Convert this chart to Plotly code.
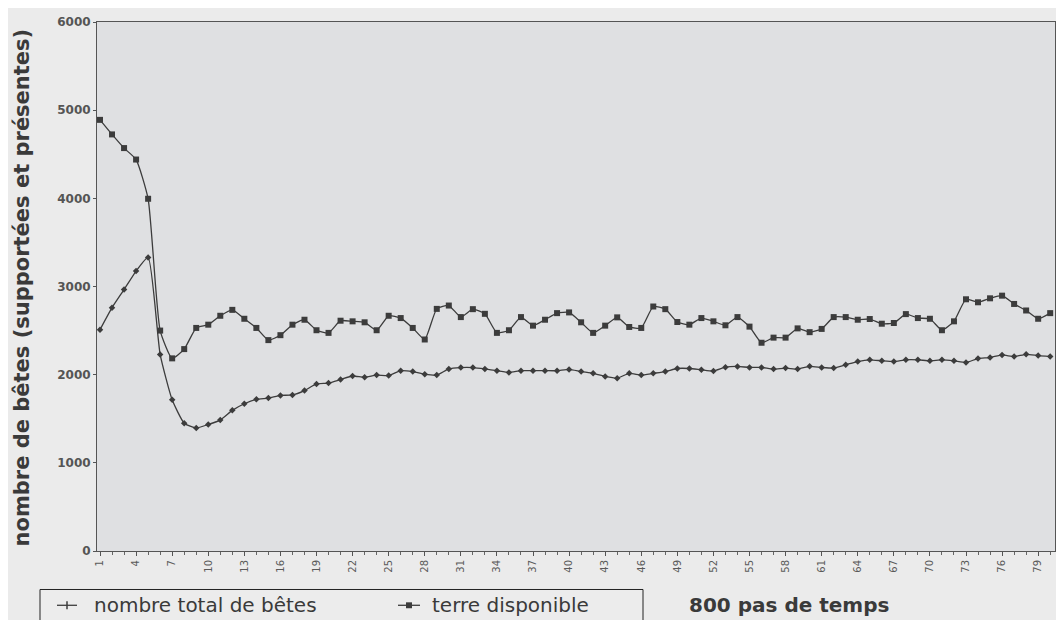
import plotly.graph_objects as go

steps = list(range(1, 81))

total_betes = [
    2510, 2760, 2965, 3175, 3330, 2230, 1715, 1450, 1395, 1435,
    1485, 1595, 1670, 1720, 1735, 1765, 1770, 1820, 1895, 1905,
    1945, 1985, 1970, 1995, 1990, 2045, 2035, 2005, 1995, 2065,
    2080, 2080, 2065, 2045, 2025, 2045, 2045, 2045, 2045, 2060,
    2035, 2015, 1980, 1960, 2015, 1995, 2015, 2035, 2070, 2070,
    2055, 2042, 2085, 2093, 2082, 2082, 2063, 2075, 2063, 2095,
    2082, 2075, 2112, 2149, 2168, 2157, 2149, 2168, 2168, 2157,
    2168, 2157, 2138, 2183, 2194, 2224, 2205, 2231, 2216, 2205,
]

terre_disponible = [
    4890, 4725, 4570, 4440, 3995, 2500, 2185, 2290, 2530, 2567,
    2668, 2735, 2634, 2530, 2392, 2448, 2567, 2623, 2504, 2474,
    2612, 2605, 2594, 2504, 2668, 2642, 2530, 2399, 2746, 2784,
    2653, 2743, 2690, 2474, 2504, 2653, 2556, 2623, 2698, 2706,
    2594, 2474, 2556, 2650, 2541, 2530, 2773, 2743, 2597, 2567,
    2642, 2605, 2560, 2653, 2545, 2362, 2420, 2420, 2525, 2482,
    2519, 2653, 2653, 2623, 2631, 2578, 2586, 2687, 2642, 2634,
    2504, 2605, 2855, 2821, 2866, 2896, 2802, 2728, 2634, 2698,
]

label_total = "nombre total de bêtes"
label_terre = "terre disponible"
y_title = "nombre de bêtes (supportées et présentes)"
x_title = "800 pas de temps"
y_ticks = [0, 1000, 2000, 3000, 4000, 5000, 6000]

# page layout (window pixels); the page body adds an 8px offset
OFF = 8
W, H = 1064 - OFF, 620 - OFF
PL, PR, PT, PB = 97, 1055, 15, 551


def xp(px):
    return (px - PL) / (PR - PL)


def yp(py):
    return (PB - py) / (PB - PT)


line_col = "#3c3c3c"
txt_col = "#3a3a3a"
FONT = "DejaVu Sans, Verdana, sans-serif"

fig = go.Figure()
fig.add_trace(go.Scatter(
    x=steps, y=total_betes, name=label_total, mode="lines+markers",
    line=dict(color=line_col, width=1.3, shape="spline", smoothing=0.5),
    marker=dict(symbol="diamond", size=5, color=line_col),
))
fig.add_trace(go.Scatter(
    x=steps, y=terre_disponible, name=label_terre, mode="lines+markers",
    line=dict(color=line_col, width=1.3, shape="spline", smoothing=0.5),
    marker=dict(symbol="square", size=6, color=line_col),
))

fig.update_layout(
    width=W, height=H,
    margin=dict(l=PL - OFF, r=1064 - PR, t=PT - OFF, b=620 - PB),
    paper_bgcolor="#ebebeb",
    plot_bgcolor="#dfe0e2",
    font=dict(family=FONT, color=txt_col),
    showlegend=False,
    xaxis=dict(
        range=[0.75, 80.4], tickmode="linear", tick0=1, dtick=3,
        tickangle=-90, ticks="outside", ticklen=4, tickcolor="#555555",
        tickfont=dict(size=10, color="#5a5a5a", family=FONT),
        showgrid=False, zeroline=False,
        showline=True, linecolor="#555555", linewidth=1, mirror=True,
        minor=dict(dtick=1, ticks="outside", ticklen=3, tickcolor="#666666"),
    ),
    yaxis=dict(
        range=[0, 6000], tickvals=y_ticks, ticks="outside", ticklen=3,
        tickcolor="#555555", ticklabeloverflow="allow",
        tickfont=dict(size=12, color="#555555", family=FONT, weight="bold"),
        showgrid=False, zeroline=False,
        showline=True, linecolor="#555555", linewidth=1, mirror=True,
    ),
)

# y-axis title
fig.add_annotation(
    text="<b>" + y_title + "</b>", xref="paper", yref="paper",
    x=xp(22), y=yp(284), xanchor="center", yanchor="middle", textangle=-90,
    showarrow=False, font=dict(size=21, color=txt_col, family=FONT),
)
# x-axis title
fig.add_annotation(
    text="<b>" + x_title + "</b>", xref="paper", yref="paper",
    x=xp(789), y=yp(606), xanchor="center", yanchor="middle",
    showarrow=False, font=dict(size=20, color=txt_col, family=FONT),
)

# legend box (extends below the page edge as in the reference)
fig.add_shape(type="rect", xref="paper", yref="paper",
              x0=xp(40), x1=xp(643), y0=yp(590), y1=yp(660),
              line=dict(color="#222222", width=1), fillcolor="#ececec", layer="above")

legend_items = [
    (label_total, 57, 77, 92, "diamond"),
    (label_terre, 398, 420, 430, "square"),
]
ly = 606
for name, sx0, sx1, tx, sym in legend_items:
    fig.add_shape(type="line", xref="paper", yref="paper",
                  x0=xp(sx0), x1=xp(sx1), y0=yp(ly), y1=yp(ly),
                  line=dict(color=line_col, width=1.3), layer="above")
    cx = (sx0 + sx1) / 2
    if sym == "square":
        fig.add_shape(type="rect", xref="paper", yref="paper",
                      x0=xp(cx - 3), x1=xp(cx + 3), y0=yp(ly - 3), y1=yp(ly + 3),
                      line=dict(color=line_col, width=0), fillcolor=line_col, layer="above")
    else:
        fig.add_shape(type="line", xref="paper", yref="paper",
                      x0=xp(cx), x1=xp(cx), y0=yp(ly - 4), y1=yp(ly + 4),
                      line=dict(color=line_col, width=1.5), layer="above")
    fig.add_annotation(
        text=name, xref="paper", yref="paper", x=xp(tx), y=yp(ly),
        xanchor="left", yanchor="middle", showarrow=False,
        font=dict(size=20, color=txt_col, family=FONT),
    )

fig.write_html("out.html")
